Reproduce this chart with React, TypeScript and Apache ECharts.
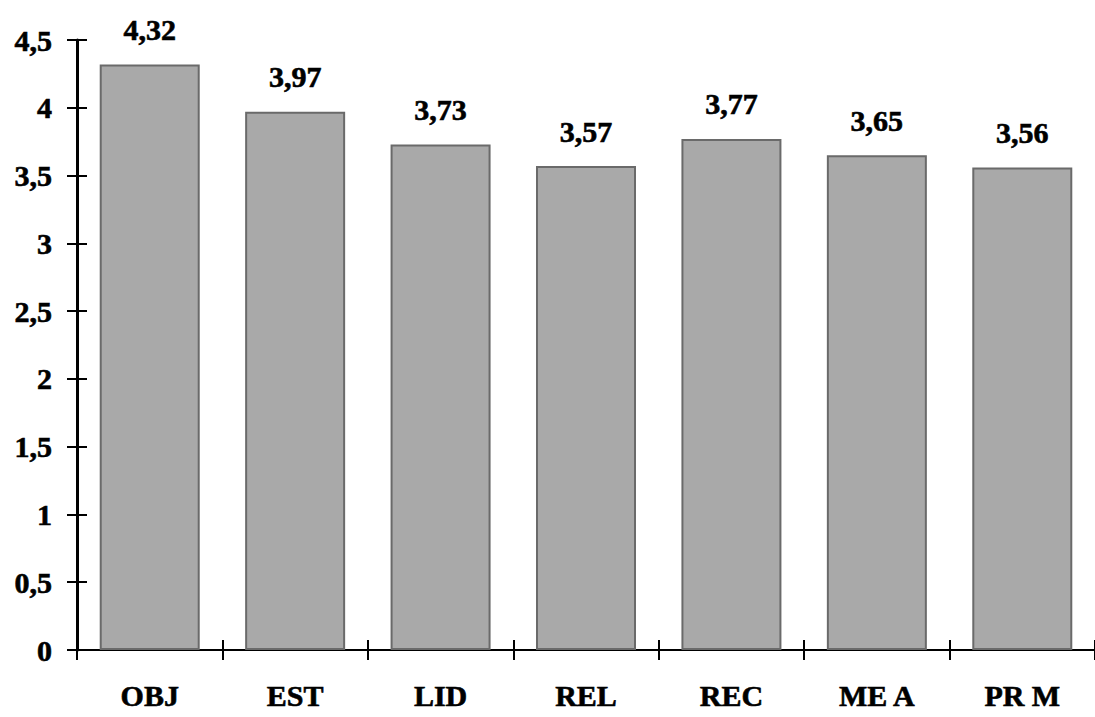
import React, { useEffect, useRef } from "react";
import * as echarts from "echarts";

const categories = ["OBJ", "EST", "LID", "REL", "REC", "ME A", "PR M"];
const values = [4.32, 3.97, 3.73, 3.57, 3.77, 3.65, 3.56];
const yMin = 0;
const yMax = 4.5;
const yStep = 0.5;

const fmt = (v: number) => String(v).replace(".", ",");
const FONT = "'Liberation Serif', 'Times New Roman', serif";
const heavy = { textBorderColor: "#000", textBorderWidth: 0.6 };

export default function App() {
  const ref = useRef<HTMLDivElement>(null);
  useEffect(() => {
    if (!ref.current) return;
    const chart = echarts.init(ref.current, null, { renderer: "svg" });
    const gridRect = { left: 77, right: -10, top: 40, bottom: 67 };
    const tickStyle = { color: "#000", width: 2 };
    chart.setOption({
      animation: false,
      backgroundColor: "#ffffff",
      grid: [gridRect, { ...gridRect }],
      xAxis: [
        {
          type: "category",
          gridIndex: 0,
          data: categories,
          axisLine: { show: true, lineStyle: { color: "#000", width: 2 } },
          axisTick: { show: true, length: 10, lineStyle: tickStyle },
          axisLabel: {
            margin: 30,
            fontFamily: FONT,
            fontWeight: "bold",
            fontSize: 30,
            color: "#000",
            interval: 0,
            ...heavy,
          },
        },
        {
          type: "category",
          gridIndex: 1,
          data: categories,
          position: "bottom",
          axisLine: { show: false },
          axisTick: { show: true, inside: true, length: 10, lineStyle: tickStyle },
          axisLabel: { show: false },
        },
      ],
      yAxis: [
        {
          type: "value",
          gridIndex: 0,
          min: yMin,
          max: yMax,
          interval: yStep,
          splitLine: { show: false },
          axisLine: { show: true, lineStyle: { color: "#000", width: 3 } },
          axisTick: { show: true, length: 10, lineStyle: tickStyle },
          axisLabel: {
            margin: 25,
            fontFamily: FONT,
            fontWeight: "bold",
            fontSize: 30,
            color: "#000",
            formatter: (v: number) => fmt(v),
            ...heavy,
          },
        },
        {
          type: "value",
          gridIndex: 1,
          min: yMin,
          max: yMax,
          interval: yStep,
          splitLine: { show: false },
          axisLine: { show: false },
          axisTick: { show: true, inside: true, length: 10, lineStyle: tickStyle },
          axisLabel: { show: false },
        },
      ],
      series: [
        {
          type: "bar",
          xAxisIndex: 0,
          yAxisIndex: 0,
          data: values,
          barWidth: 100,
          itemStyle: { color: "#a9a9a9", borderColor: "#6a6a6a", borderWidth: 2 },
          label: {
            show: true,
            position: "top",
            distance: 20,
            fontFamily: FONT,
            fontWeight: "bold",
            fontSize: 30,
            color: "#000",
            formatter: (p: any) => fmt(p.value),
            ...heavy,
          },
        },
      ],
    });
    return () => chart.dispose();
  }, []);
  return (
    <div
      ref={ref}
      style={{ position: "fixed", left: 0, top: 0, width: 1095, height: 717 }}
    />
  );
}
